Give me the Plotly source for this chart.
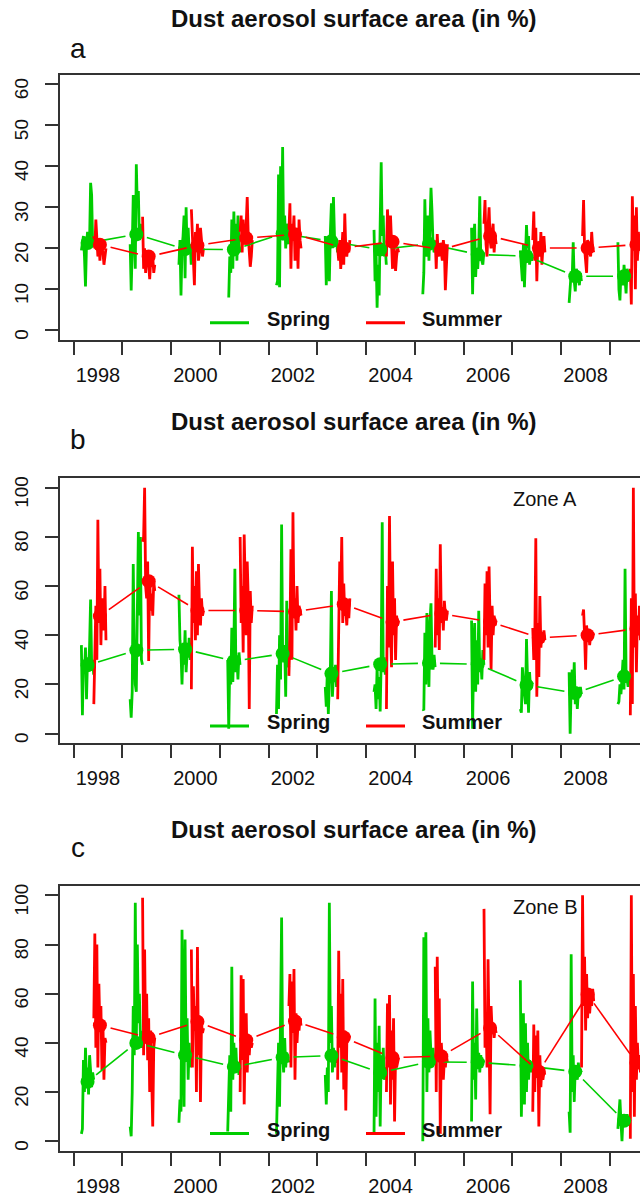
import math
import plotly.graph_objects as go

# ---------------- data ----------------
years = list(range(1998, 2010))
x_label_years = [1998, 2000, 2002, 2004, 2006, 2008]
chart_title = "Dust aerosol surface area (in %)"
panel_letters = ["a", "b", "c"]
zone_labels = ["", "Zone A", "Zone B"]
season_names = ["Spring", "Summer"]
y_ticks_a = [0, 10, 20, 30, 40, 50, 60]
y_ticks_bc = [0, 20, 40, 60, 80, 100]

# seasonal means (dots)
a_spring_mean = [21.3, 23.4, 19.8, 19.7, 23.6, 21.7, 19.7, 21.1, 18.5, 18.1, 13.2, 13.2]
a_summer_mean = [20.9, 18.0, 20.7, 22.5, 23.4, 20.1, 21.6, 19.7, 23.0, 20.1, 20.1, 20.9]
b_spring_mean = [27.8, 33.9, 34.3, 29.5, 32.5, 24.4, 28.2, 28.7, 28.2, 19.8, 16.5, 23.3]
b_summer_mean = [47.8, 62.0, 50.1, 50.1, 49.6, 52.6, 45.4, 48.8, 45.5, 39.0, 40.0, 42.7]
c_spring_mean = [24.2, 40.0, 35.0, 30.3, 34.1, 34.8, 27.9, 32.3, 32.1, 30.7, 28.3, 8.3]
c_summer_mean = [47.2, 42.1, 48.6, 41.1, 48.8, 42.2, 34.0, 34.6, 46.1, 28.3, 59.7, 31.9]

# daily values sampled through each season, one list per year
a_spring_daily = [
    [19.5, 22, 23, 18, 10.7, 21, 24, 20, 22, 36, 33, 21, 22],
    [21, 9.7, 20, 33, 24, 15, 40.5, 30, 34, 22, 26, 23, 24],
    [16, 22, 8.5, 20, 23, 28, 12.7, 30, 19, 25, 19, 21, 16],
    [None, 8, 18, 14, 27, 15, 29, 20, 26, 17, 28, 21, 19],
    [11, 12, 38, 10.5, 40, 24, 44.7, 22, 28, 20, 26, 23, 21],
    [23, 11, 22, 18, 12, 24, 31, 20, 32.5, 23, 21, 22, 19],
    [24.5, 12, 19, 5.5, 16, 8.5, 26, 41, 23, 28, 18, 20, 16],
    [8.8, 14, 32, 21, 18, 28, 17, 26, 34.8, 29, 21, 19, 20],
    [25, 8.8, 22, 26, 13, 19, 15, 20, 32.7, 18, 17, 16, 19],
    [19.5, 15, 12, 21, 10.5, 18, 25.7, 20, 23, 16, 19, 17, 18],
    [6.7, 10, 14, 13, 21.5, 12, 9.5, 15, 14, 13, 11, 14, 12],
    [21.5, 10, 7.3, 14, 12, 11, 16, 13, 9, 15, 14, 12, 13],
]
a_summer_daily = [
    [23, 20, 27, 21, 18, 22, 17, 21, 20, 19, 16, 18, 20],
    [27.7, 15, 20, 14, 18, 19, 16, 12.5, 17, 15.5, 18, 14, 16],
    [29.5, 22, 18, 11, 24, 21, 26, 17, 19, 25, 22, 18, 20],
    [24, 28, 19, 27, 21, 22, 26, 32.5, 23, 20, 15.5, 18, 22],
    [24, 31, 15, 26, 23, 28, 17, 21, 25, 15, 27, 22, 20],
    [20, 17, 22, 15, 19, 24, 16, 28.5, 20, 18, 21, 19, 22],
    [18, 29.5, 24, 22, 28, 19, 15, 23, 17, 14.5, 18, 20, 19],
    [22, 15, 23.5, 18, 20, 21, 19, 17, 22, 20, 9.8, 18, 21],
    [26, 31.8, 21, 18, 25, 30, 22, 20, 24, 26, 19, 23, 21],
    [22, 29, 17, 25, 12, 21, 19, 18, 24, 16, 20, 23, 19],
    [None, 23, 31.8, 20, 17, 14, 22, 21, 19, 18, 24, 20, 19],
    [15, 6.3, 32.7, 21, 28, 10, 30, 17, 24, 20, 22, 18, 21],
]
b_spring_daily = [
    [36, 7.5, 30, 25, 35, 14, 31, 26, 36, 54.5, 28, 30, 24],
    [14, 6.5, 17, 69, 34, 20, 17, 43, 82, 48, 80, 30, 28],
    [56.5, 38, 33, 20, 35, 28, 42, 25, 33, 31, 39, 30, 37],
    [30, 2, 28, 20, 43, 21, 35, 67, 25, 31, 22, 33, 28],
    [8, 28, 10, 40, 22, 85, 33, 29, 36, 15, 54, 30, 27],
    [19, 11, 25, 8, 20, 26, 58, 15, 24, 21, 28, 19, 22],
    [17, 20, 10, 27, 14, 23, 9, 30, 86, 25, 31, 24, 28],
    [10, 9.5, 41, 20, 49, 28, 19, 46, 53, 30, 26, 32, 27],
    [46, 2, 33, 45, 17, 38, 20, 50, 25, 30, 22, 34, 28],
    [10, 8.5, 27, 19, 16, 12, 38.5, 22, 8.5, 25, 18, 21, 20],
    [25, 0, 19, 26, 14, 29, 12, 18, 10, 17, 15, 19, 16],
    [12, 13, 20, 16, 23, 30, 18, 67, 25, 21, 19, 24, 22],
]
b_summer_daily = [
    [12, 40, 52, 30, 87, 45, 67, 36, 55, 48, 42, 60, 38],
    [78, 80, 100, 60, 55, 70, 29.5, 64, 50, 57, 48, 62, 58],
    [18, 76, 45, 60, 38, 66, 40, 69, 52, 44, 55, 48, 50],
    [80, 45, 60, 33, 81, 50, 40, 70, 55, 10, 58, 45, 52],
    [23.5, 40, 75, 30, 90, 48, 55, 42, 60, 45, 52, 50, 48],
    [14, 44, 70, 55, 80, 45, 61, 48, 50, 44, 53, 47, 55],
    [10, 60, 35, 88.5, 45, 27, 70, 40, 55, 30, 48, 44, 46],
    [35, 67, 40, 55, 34, 77, 45, 50, 42, 54, 48, 46, 50],
    [30, 61, 40, 66, 35, 68, 45, 26, 52, 40, 48, 44, 46],
    [43, 30, 38, 79.5, 15, 45, 23, 56, 35, 40, 37, 42, 38],
    [None, 48, 50.5, 40, 26, 44, 38, 42, 36, 40, 39, 41, 40],
    [7.5, 55, 12, 100, 35, 57, 25, 48, 40, 52, 38, 45, 42],
]
c_spring_daily = [
    [3, 5, 33, 20, 38, 24, 30, 19, 35, 26, 22, 28, 25],
    [6, 2, 20, 55, 35, 97, 40, 80, 48, 60, 42, 38, 45],
    [7.5, 17, 12, 86, 45, 14, 82, 35, 50, 25, 40, 30, 36],
    [4, 22, 35, 12, 71, 25, 40, 30, 38, 28, 32, 27, 30],
    [3, 25, 40, 14, 55, 91, 35, 28, 42, 30, 36, 33, 32],
    [27, 15, 30, 20, 97, 40, 55, 28, 38, 30, 35, 32, 33],
    [3, 58, 10, 40, 20, 47, 6, 35, 28, 38, 25, 30, 28],
    [0, 83, 30, 85, 20, 50, 28, 45, 35, 30, 38, 32, 33],
    [8, 65, 25, 40, 17, 54, 30, 36, 28, 35, 30, 33, 32],
    [65.5, 10, 35, 52, 15, 48, 20, 40, 25, 33, 28, 31, 30],
    [12, 3.5, 76, 20, 35, 16, 30, 28, 25, 32, 27, 29, 28],
    [5, 14, 17, 8, 0, 10, 6, 9, 7, 11, 8, 9, 8],
]
c_summer_daily = [
    [50, 84.5, 38, 80, 30, 64, 45, 55, 29, 48, 25, 42, 40],
    [99, 35, 78, 40, 60, 33, 50, 20, 45, 25, 6, 38, 42],
    [78, 30, 63, 45, 55, 20, 79, 35, 50, 16, 48, 44, 46],
    [20, 67.5, 33, 66, 15, 45, 52, 28, 40, 35, 42, 38, 40],
    [55, 68, 30, 65, 44, 70, 25, 52, 40, 48, 45, 50, 47],
    [25, 77.5, 38, 60, 28, 66, 21, 45, 12.5, 40, 44, 42, 43],
    [20, 56, 30, 59.5, 15, 45, 25, 50, 8, 35, 30, 33, 34],
    [71, 20, 75, 35, 58, 3, 40, 30, 25, 33, 30, 35, 32],
    [94.5, 38, 50, 30, 74, 40, 11, 55, 45, 48, 42, 46, 44],
    [12, 47.5, 20, 43, 30, 45, 6, 35, 22, 30, 25, 28, 27],
    [30, 100, 55, 75, 45, 68, 50, 60, 52, 58, 55, 62, 57],
    [1, 100, 20, 68, 10, 55, 25, 40, 30, 35, 28, 33, 30],
]

spring_days = (59, 151)   # Mar-May, day of year
summer_days = (152, 243)  # Jun-Aug, day of year

# ---------------- styling ----------------
GREEN = "#00CD00"
RED = "#FF0000"
AXCOL = "#333333"
FONT = "Liberation Sans, Arial, Helvetica, sans-serif"
W, H = 640, 1199

boxes = [(72.7, 338.7), (476.7, 742.7), (885.0, 1151.0)]
X0_PX = 60
x_range = [1997.723, 2009.615]
y_ranges = [[-2.4, 62.4], [-4, 104], [-4, 104]]
y_tickvals = [y_ticks_a, y_ticks_bc, y_ticks_bc]
POINT_GAP_PX = 11  # R type="b": connecting lines stop short of the points

panels = [
    (a_spring_daily, a_summer_daily, a_spring_mean, a_summer_mean),
    (b_spring_daily, b_summer_daily, b_spring_mean, b_summer_mean),
    (c_spring_daily, c_summer_daily, c_spring_mean, c_summer_mean),
]


def daily_xy(daily, days):
    xs, ys = [], []
    d0, d1 = days
    for yr, vals in zip(years, daily):
        n = len(vals)
        for i, v in enumerate(vals):
            xs.append(yr + (d0 + i * (d1 - d0) / (n - 1)) / 365.0)
            ys.append(v)
        xs.append(None)
        ys.append(None)
    return xs, ys


def mean_x(days):
    return [yr + (days[0] + days[1]) / 2 / 365.0 for yr in years]


def gapped_segments(xs, ys, kx, ky, gap):
    sx, sy = [], []
    for i in range(len(xs) - 1):
        dx, dy = xs[i + 1] - xs[i], ys[i + 1] - ys[i]
        L = math.hypot(dx * kx, dy * ky)
        if L <= 2 * gap:
            continue
        t = gap / L
        sx += [xs[i] + t * dx, xs[i + 1] - t * dx, None]
        sy += [ys[i] + t * dy, ys[i + 1] - t * dy, None]
    return sx, sy


fig = go.Figure()
kx = (W - X0_PX) / (x_range[1] - x_range[0])
for p, (sp_d, su_d, sp_m, su_m) in enumerate(panels):
    xa = "x" if p == 0 else f"x{p+1}"
    ya = "y" if p == 0 else f"y{p+1}"
    ky = (boxes[p][1] - boxes[p][0]) / (y_ranges[p][1] - y_ranges[p][0])
    for daily, days, col in ((sp_d, spring_days, GREEN), (su_d, summer_days, RED)):
        xs, ys = daily_xy(daily, days)
        fig.add_trace(go.Scatter(x=xs, y=ys, mode="lines", xaxis=xa, yaxis=ya,
                                 line=dict(color=col, width=2.8), connectgaps=False,
                                 showlegend=False, hoverinfo="skip"))
    for means, days, col, nm in ((sp_m, spring_days, GREEN, season_names[0]),
                                 (su_m, summer_days, RED, season_names[1])):
        mx = mean_x(days)
        sx, sy = gapped_segments(mx, means, kx, ky, POINT_GAP_PX)
        fig.add_trace(go.Scatter(x=sx, y=sy, mode="lines", xaxis=xa, yaxis=ya,
                                 line=dict(color=col, width=1.6), connectgaps=False,
                                 showlegend=False, hoverinfo="skip"))
        fig.add_trace(go.Scatter(x=mx, y=means, mode="markers",
                                 xaxis=xa, yaxis=ya, name=nm,
                                 marker=dict(color=col, size=14),
                                 showlegend=False))

layout = dict(width=W, height=H, margin=dict(l=0, r=0, t=0, b=0),
              paper_bgcolor="white", plot_bgcolor="white",
              font=dict(family=FONT, color="#111111"), showlegend=False)

annotations = []
shapes = []
for p in range(3):
    top, bot = boxes[p]
    suffix = "" if p == 0 else str(p + 1)
    layout["xaxis" + suffix] = dict(
        domain=[X0_PX / W, 1.0], range=x_range, anchor="y" + suffix,
        showline=True, mirror=True, linecolor=AXCOL, linewidth=1.6,
        showgrid=False, zeroline=False,
        tickmode="array", tickvals=[y + 0.5 for y in x_label_years],
        ticktext=[str(y) for y in x_label_years],
        ticks="outside", ticklen=16, tickcolor="rgba(0,0,0,0)",
        tickfont=dict(size=20, family=FONT, color="#111111"),
        minor=dict(tickmode="array", tickvals=years, ticks="outside",
                   ticklen=13, tickwidth=1.5, tickcolor=AXCOL, showgrid=False),
    )
    layout["yaxis" + suffix] = dict(
        domain=[1 - bot / H, 1 - top / H], range=y_ranges[p], anchor="x" + suffix,
        showline=True, mirror=False, linecolor=AXCOL, linewidth=1.6,
        showgrid=False, zeroline=False,
        tickmode="array", tickvals=y_tickvals[p],
        ticks="outside", ticklen=13, tickwidth=1.5, tickcolor=AXCOL,
        tickangle=-90, ticklabelstandoff=10, ticklabelshift=7,
        tickfont=dict(size=19, family=FONT, color="#111111"),
    )
    annotations.append(dict(text="<b>" + chart_title + "</b>", xref="paper", yref="paper",
                            x=353.5 / W, y=1 - (top - 56) / H, xanchor="center",
                            yanchor="middle", showarrow=False,
                            font=dict(size=24, family=FONT, color="#111111")))
    letter_y = [top - 26, top - 38, top - 38.5][p]
    annotations.append(dict(text=panel_letters[p], xref="paper", yref="paper",
                            x=78 / W, y=1 - letter_y / H, xanchor="center",
                            yanchor="middle", showarrow=False,
                            font=dict(size=28, family=FONT, color="#111111")))
    if zone_labels[p]:
        annotations.append(dict(text=zone_labels[p], xref="paper", yref="paper",
                                x=545 / W, y=1 - (top + 21.5) / H, xanchor="center",
                                yanchor="middle", showarrow=False,
                                font=dict(size=20, family=FONT, color="#111111")))
    ly = bot - 17.5
    for (x0, x1, tx, col, nm) in ((210, 249, 265, GREEN, season_names[0]),
                                  (366, 405, 420, RED, season_names[1])):
        shapes.append(dict(type="line", xref="paper", yref="paper",
                           x0=x0 / W, x1=x1 / W, y0=1 - ly / H, y1=1 - ly / H,
                           line=dict(color=col, width=3)))
        annotations.append(dict(text="<b>" + nm + "</b>", xref="paper", yref="paper",
                                x=tx / W, y=1 - (ly - 4) / H, xanchor="left",
                                yanchor="middle", showarrow=False,
                                font=dict(size=20, family=FONT, color="#111111")))

layout["annotations"] = annotations
layout["shapes"] = shapes
fig.update_layout(**layout)
fig.write_html("out.html")
